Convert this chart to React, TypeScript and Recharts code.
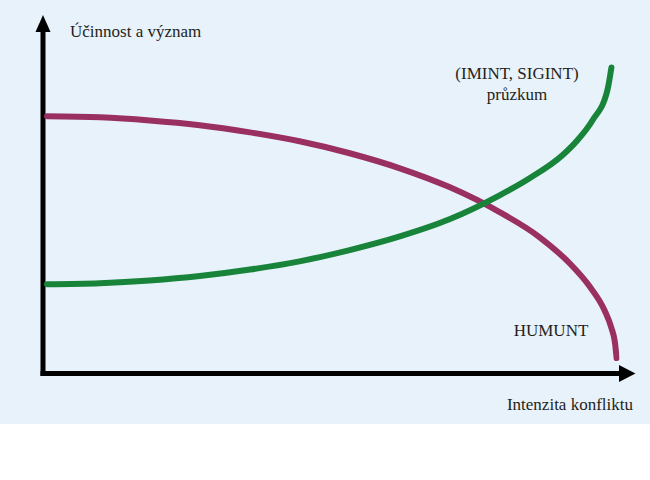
import React from "react";
import { LineChart, Line, XAxis, YAxis, ReferenceDot, ReferenceLine } from "recharts";

// Conflict intensity (0-100) vs. effectiveness/importance (0-100)
const humintX = [0.7, 9.9, 18.5, 27.2, 35.9, 44.5, 53.2, 61.9, 70.5, 79.2, 86.1, 91.3, 94.8, 97.4, 98.6, 99.2, 99.5];
const humintY = [75.2, 74.9, 74.0, 72.6, 70.5, 67.9, 64.4, 60.0, 54.5, 47.2, 39.9, 32.3, 25.5, 18.5, 13.3, 9.2, 4.5];

const reconX = [0.7, 9.9, 18.5, 27.2, 35.9, 44.5, 53.2, 61.9, 70.5, 79.2, 84.4, 90.1, 92.7, 95.3, 97.9, 98.6];
const reconY = [26.1, 26.4, 27.2, 28.5, 30.4, 32.8, 36.1, 40.1, 45.1, 52.1, 57.1, 63.8, 68.2, 74.0, 82.8, 89.5];

const yAxisTitle = "Účinnost a význam";
const xAxisTitle = "Intenzita konfliktu";
const reconLabel = ["(IMINT, SIGINT)", "průzkum"];
const humintLabel = "HUMUNT";

const humintData = humintX.map((x, i) => ({ x, y: humintY[i] }));
const reconData = reconX.map((x, i) => ({ x, y: reconY[i] }));

const PURPLE = "#9a2f62";
const GREEN = "#17843a";
const FONT = "'Liberation Serif', 'DejaVu Serif', serif";

const ArrowRight = (p: any) => (
  <path d={`M${p.cx - 0.5},${p.cy - 8.5} L${p.cx + 16},${p.cy} L${p.cx - 0.5},${p.cy + 8.5} Z`} fill="#000" />
);
const ArrowUp = (p: any) => (
  <path d={`M${p.cx - 7.5},${p.cy + 0.5} L${p.cx},${p.cy - 16.5} L${p.cx + 7.5},${p.cy + 0.5} Z`} fill="#000" />
);

export default function App() {
  return (
    <div style={{ position: "absolute", left: 0, top: 0, width: 650, height: 480, background: "#ffffff" }}>
      <div style={{ position: "absolute", left: 0, top: 0, width: 650, height: 424, background: "#e8f2fb" }} />
      <div style={{ position: "absolute", left: 0, top: 0 }}>
        <LineChart width={650} height={480} margin={{ top: 31.5, left: 43, right: 30.5, bottom: 106.5 }}>
          <XAxis type="number" dataKey="x" domain={[0, 100]} hide allowDataOverflow />
          <YAxis type="number" dataKey="y" domain={[0, 100]} hide allowDataOverflow />
          <ReferenceLine x={0} stroke="#000" strokeWidth={5} strokeLinecap="square" ifOverflow="visible" />
          <ReferenceLine y={0} stroke="#000" strokeWidth={5} strokeLinecap="square" ifOverflow="visible" />
          <Line
            data={humintData}
            dataKey="y"
            type="monotone"
            stroke={PURPLE}
            strokeWidth={6}
            strokeLinecap="round"
            dot={false}
            activeDot={false}
            isAnimationActive={false}
          />
          <Line
            data={reconData}
            dataKey="y"
            type="monotone"
            stroke={GREEN}
            strokeWidth={6}
            strokeLinecap="round"
            dot={false}
            activeDot={false}
            isAnimationActive={false}
          />
          <ReferenceDot x={100} y={0} ifOverflow="visible" shape={ArrowRight} />
          <ReferenceDot x={0} y={100} ifOverflow="visible" shape={ArrowUp} />
        </LineChart>
      </div>
      <svg width={650} height={480} style={{ position: "absolute", left: 0, top: 0, pointerEvents: "none" }}>
        <g fontFamily={FONT} fontSize={17} fill="#231f20">
          <text x={70} y={37}>{yAxisTitle}</text>
          <text x={517} y={79} textAnchor="middle">{reconLabel[0]}</text>
          <text x={517} y={100} textAnchor="middle">{reconLabel[1]}</text>
          <text x={551} y={336} textAnchor="middle">{humintLabel}</text>
          <text x={633} y={410} textAnchor="end">{xAxisTitle}</text>
        </g>
      </svg>
    </div>
  );
}
